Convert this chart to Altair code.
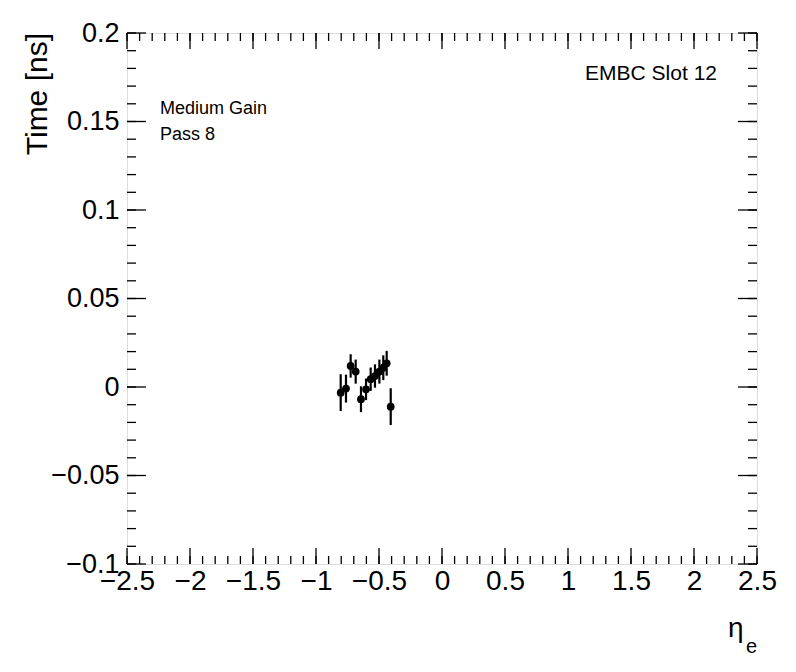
import altair as alt
import numpy as np
import pandas as pd

# ---- data ----
eta = [-0.804, -0.762, -0.725, -0.685, -0.643, -0.603, -0.566, -0.532, -0.497, -0.466, -0.439, -0.407]
time_ns = [-0.0032, -0.0009, 0.0119, 0.0087, -0.0069, -0.0013, 0.0044, 0.0062, 0.0087, 0.0109, 0.0134, -0.0111]
err_ns = [0.0104, 0.0079, 0.0066, 0.0068, 0.0073, 0.0061, 0.0066, 0.0066, 0.0068, 0.0070, 0.0070, 0.0104]

x_major = [-2.5, -2.0, -1.5, -1.0, -0.5, 0.0, 0.5, 1.0, 1.5, 2.0, 2.5]
y_major = [-0.1, -0.05, 0.0, 0.05, 0.1, 0.15, 0.2]
x_minor = [round(v, 2) for v in np.arange(-2.5, 2.501, 0.1)]
y_minor = [round(v, 3) for v in np.arange(-0.1, 0.2001, 0.01)]

W, H = 630, 531
FONT = "Liberation Sans"

df = pd.DataFrame({"eta": eta, "t": time_ns, "err": err_ns})
df["lo"] = df["t"] - df["err"]
df["hi"] = df["t"] + df["err"]

xs = alt.Scale(domain=[-2.5, 2.5], nice=False, zero=False)
ys = alt.Scale(domain=[-0.1, 0.2], nice=False, zero=False)

xaxis = alt.Axis(values=x_major, format="~g", labelFont=FONT, labelFontSize=28, labelColor="black",
                 labelPadding=3, ticks=False, domain=False, grid=False, title=None,
                 labelOverlap=False, labelFlush=False, labelBound=False)
yaxis = alt.Axis(values=y_major, format="~g", labelFont=FONT, labelFontSize=27, labelColor="black",
                 labelPadding=8, ticks=False, domain=False, grid=False, title=None,
                 labelOverlap=False, labelFlush=False, labelBound=False)

bars = alt.Chart(df).mark_rule(color="black", strokeWidth=2.2).encode(
    x=alt.X("eta:Q", scale=xs, axis=xaxis),
    y=alt.Y("lo:Q", scale=ys, axis=yaxis),
    y2="hi:Q",
)
pts = alt.Chart(df).mark_circle(color="black", size=60, opacity=1).encode(
    x=alt.X("eta:Q", scale=xs),
    y=alt.Y("t:Q", scale=ys),
)

layers = [bars, pts]

def xticks(vals, length):
    d = pd.DataFrame({"v": vals})
    bot = alt.Chart(d).mark_rule(color="black", strokeWidth=1.3).encode(
        x=alt.X("v:Q", scale=xs), y=alt.value(H), y2=alt.value(H - length))
    top = alt.Chart(d).mark_rule(color="black", strokeWidth=1.3).encode(
        x=alt.X("v:Q", scale=xs), y=alt.value(0), y2=alt.value(length))
    return [bot, top]

def yticks(vals, length):
    d = pd.DataFrame({"v": vals})
    left = alt.Chart(d).mark_rule(color="black", strokeWidth=1.3).encode(
        y=alt.Y("v:Q", scale=ys), x=alt.value(0), x2=alt.value(length))
    right = alt.Chart(d).mark_rule(color="black", strokeWidth=1.3).encode(
        y=alt.Y("v:Q", scale=ys), x=alt.value(W), x2=alt.value(W - length))
    return [left, right]

layers += xticks(x_minor, 8) + xticks(x_major, 16) + yticks(y_minor, 9) + yticks(y_major, 19)

def label(text, x, y, size, align="left", angle=0, baseline="alphabetic"):
    return alt.Chart(pd.DataFrame({"s": [text]})).mark_text(
        font=FONT, fontSize=size, color="black", align=align, baseline=baseline, angle=angle
    ).encode(text="s:N", x=alt.value(x), y=alt.value(y))

layers += [
    label("Medium Gain", 33, 81, 18),
    label("Pass 8", 33, 107, 18),
    label("EMBC Slot 12", 590, 47, 21, align="right"),
    label("Time [ns]", -89, 0, 30, align="right", angle=270, baseline="middle"),
    label("η", 601, 604, 28),
    label("e", 619, 620, 20),
]

chart = alt.layer(*layers).properties(
    width=W, height=H,
    autosize=alt.AutoSizeParams(type="none"),
    padding={"left": 119, "top": 25, "right": 30, "bottom": 100},
).configure_view(stroke="black", strokeWidth=1.3).configure(background="white")

chart.save("out.html", embed_options={"renderer": "svg", "actions": False})
